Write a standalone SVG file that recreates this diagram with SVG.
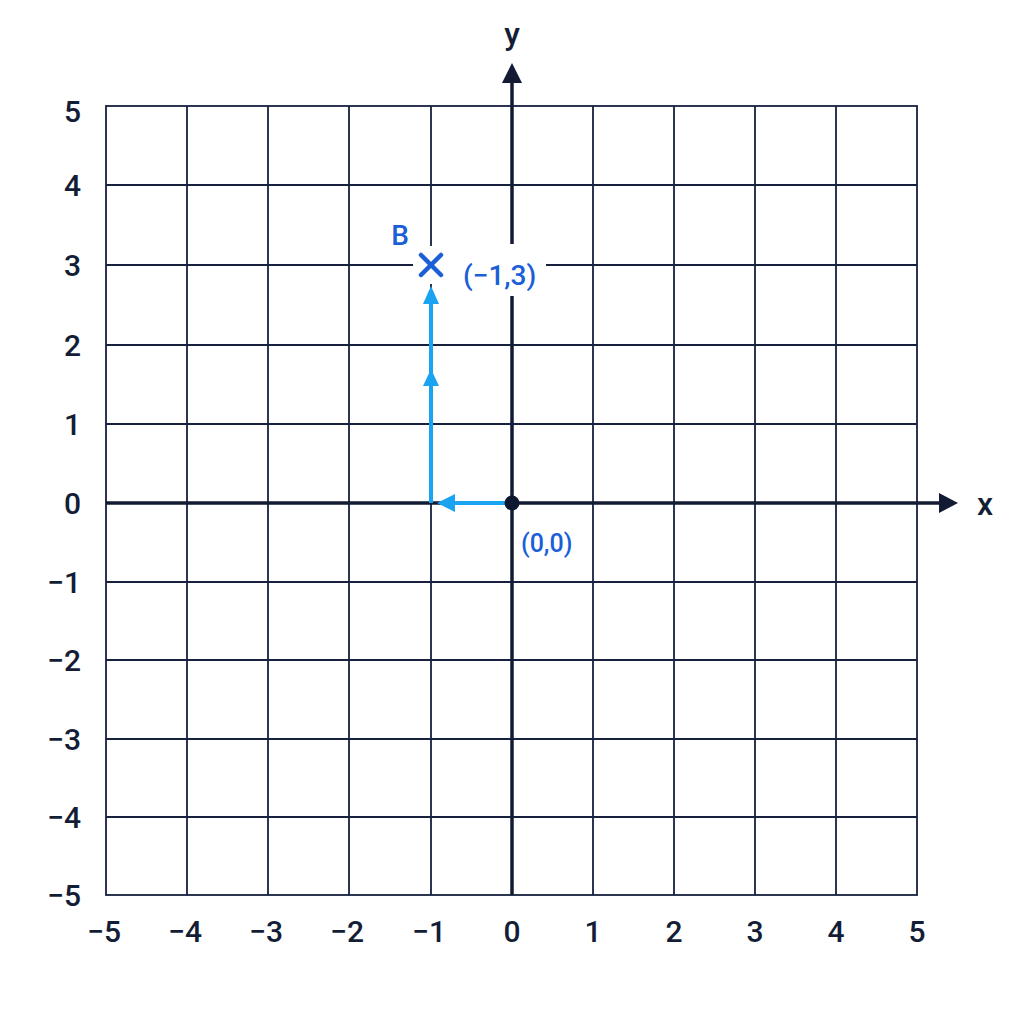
<svg xmlns="http://www.w3.org/2000/svg" width="1024" height="1024" viewBox="0 0 1024 1024">
<defs>
<style>
.grid{stroke:#17213d;stroke-width:1.8;fill:none}
.axis{stroke:#121b33;stroke-width:3.5;fill:none}
.tick{font-family:Roboto,"Liberation Sans",Arial,sans-serif;font-size:30px;font-weight:500;fill:#141d36}
.ax{font-family:Roboto,"Liberation Sans",Arial,sans-serif;font-size:32px;font-weight:500;fill:#141d36}
.blue{font-family:Roboto,"Liberation Sans",Arial,sans-serif;font-weight:500;fill:#1a5fd6}
.path{stroke:#1aa3f0;stroke-width:4;fill:none}
</style>
</defs>
<rect width="1024" height="1024" fill="#ffffff"/>
<g id="grid">
<rect class="grid" x="106" y="106" width="811" height="789"/>
<path class="grid" d="M187 106V895M268 106V895M349 106V895M431 106V895M593 106V895M674 106V895M755 106V895M836 106V895M106 185H917M106 265H917M106 345H917M106 424H917M106 582H917M106 660H917M106 739H917M106 817H917"/>
</g>
<g id="axes">
<path class="axis" d="M106 503H942"/>
<polygon points="958,503 939,493 939,513" fill="#121b33"/>
<path class="axis" d="M512 895V80"/>
<polygon points="512,63 502,83 522,83" fill="#121b33"/>
<text class="ax" x="512" y="45" text-anchor="middle">y</text>
<text class="ax" x="985" y="515" text-anchor="middle">x</text>
</g>
<g id="ylabels" class="tick" text-anchor="end">
<text x="81" y="122">5</text>
<text x="81" y="196">4</text>
<text x="81" y="276">3</text>
<text x="81" y="356">2</text>
<text x="81" y="435">1</text>
<text x="81" y="514">0</text>
<text x="81" y="593">−1</text>
<text x="81" y="671">−2</text>
<text x="81" y="750">−3</text>
<text x="81" y="828">−4</text>
<text x="81" y="906">−5</text>
</g>
<g id="xlabels" class="tick" text-anchor="middle">
<text x="104" y="942">−5</text>
<text x="185" y="942">−4</text>
<text x="266" y="942">−3</text>
<text x="347" y="942">−2</text>
<text x="429" y="942">−1</text>
<text x="512" y="942">0</text>
<text x="593" y="942">1</text>
<text x="674" y="942">2</text>
<text x="755" y="942">3</text>
<text x="836" y="942">4</text>
<text x="917" y="942">5</text>
</g>
<g id="connectors">
<path class="path" d="M512 503H448"/>
<polygon points="437,503 455,494 455,512" fill="#1aa3f0"/>
<path class="path" d="M431 503V300"/>
<polygon points="431,369 423,386 439,386" fill="#1aa3f0"/>
<polygon points="431,286 423,304 439,304" fill="#1aa3f0"/>
</g>
<g id="origin">
<circle cx="512" cy="503" r="7.5" fill="#0e1730"/>
<text class="blue" x="521" y="552" font-size="25">(0,0)</text>
</g>
<g id="pointB">
<rect x="456" y="244" width="90" height="52" fill="#ffffff"/>
<rect x="384" y="214" width="34" height="34" fill="#ffffff"/>
<rect x="413" y="246" width="50" height="38" fill="#ffffff"/>
<path d="M421 255L441 275M441 255L421 275" stroke="#1a5fd6" stroke-width="4.5" stroke-linecap="round"/>
<text class="blue" x="400" y="245" font-size="28" text-anchor="middle">B</text>
<text class="blue" x="463" y="285" font-size="28">(−1,3)</text>
</g>
</svg>
